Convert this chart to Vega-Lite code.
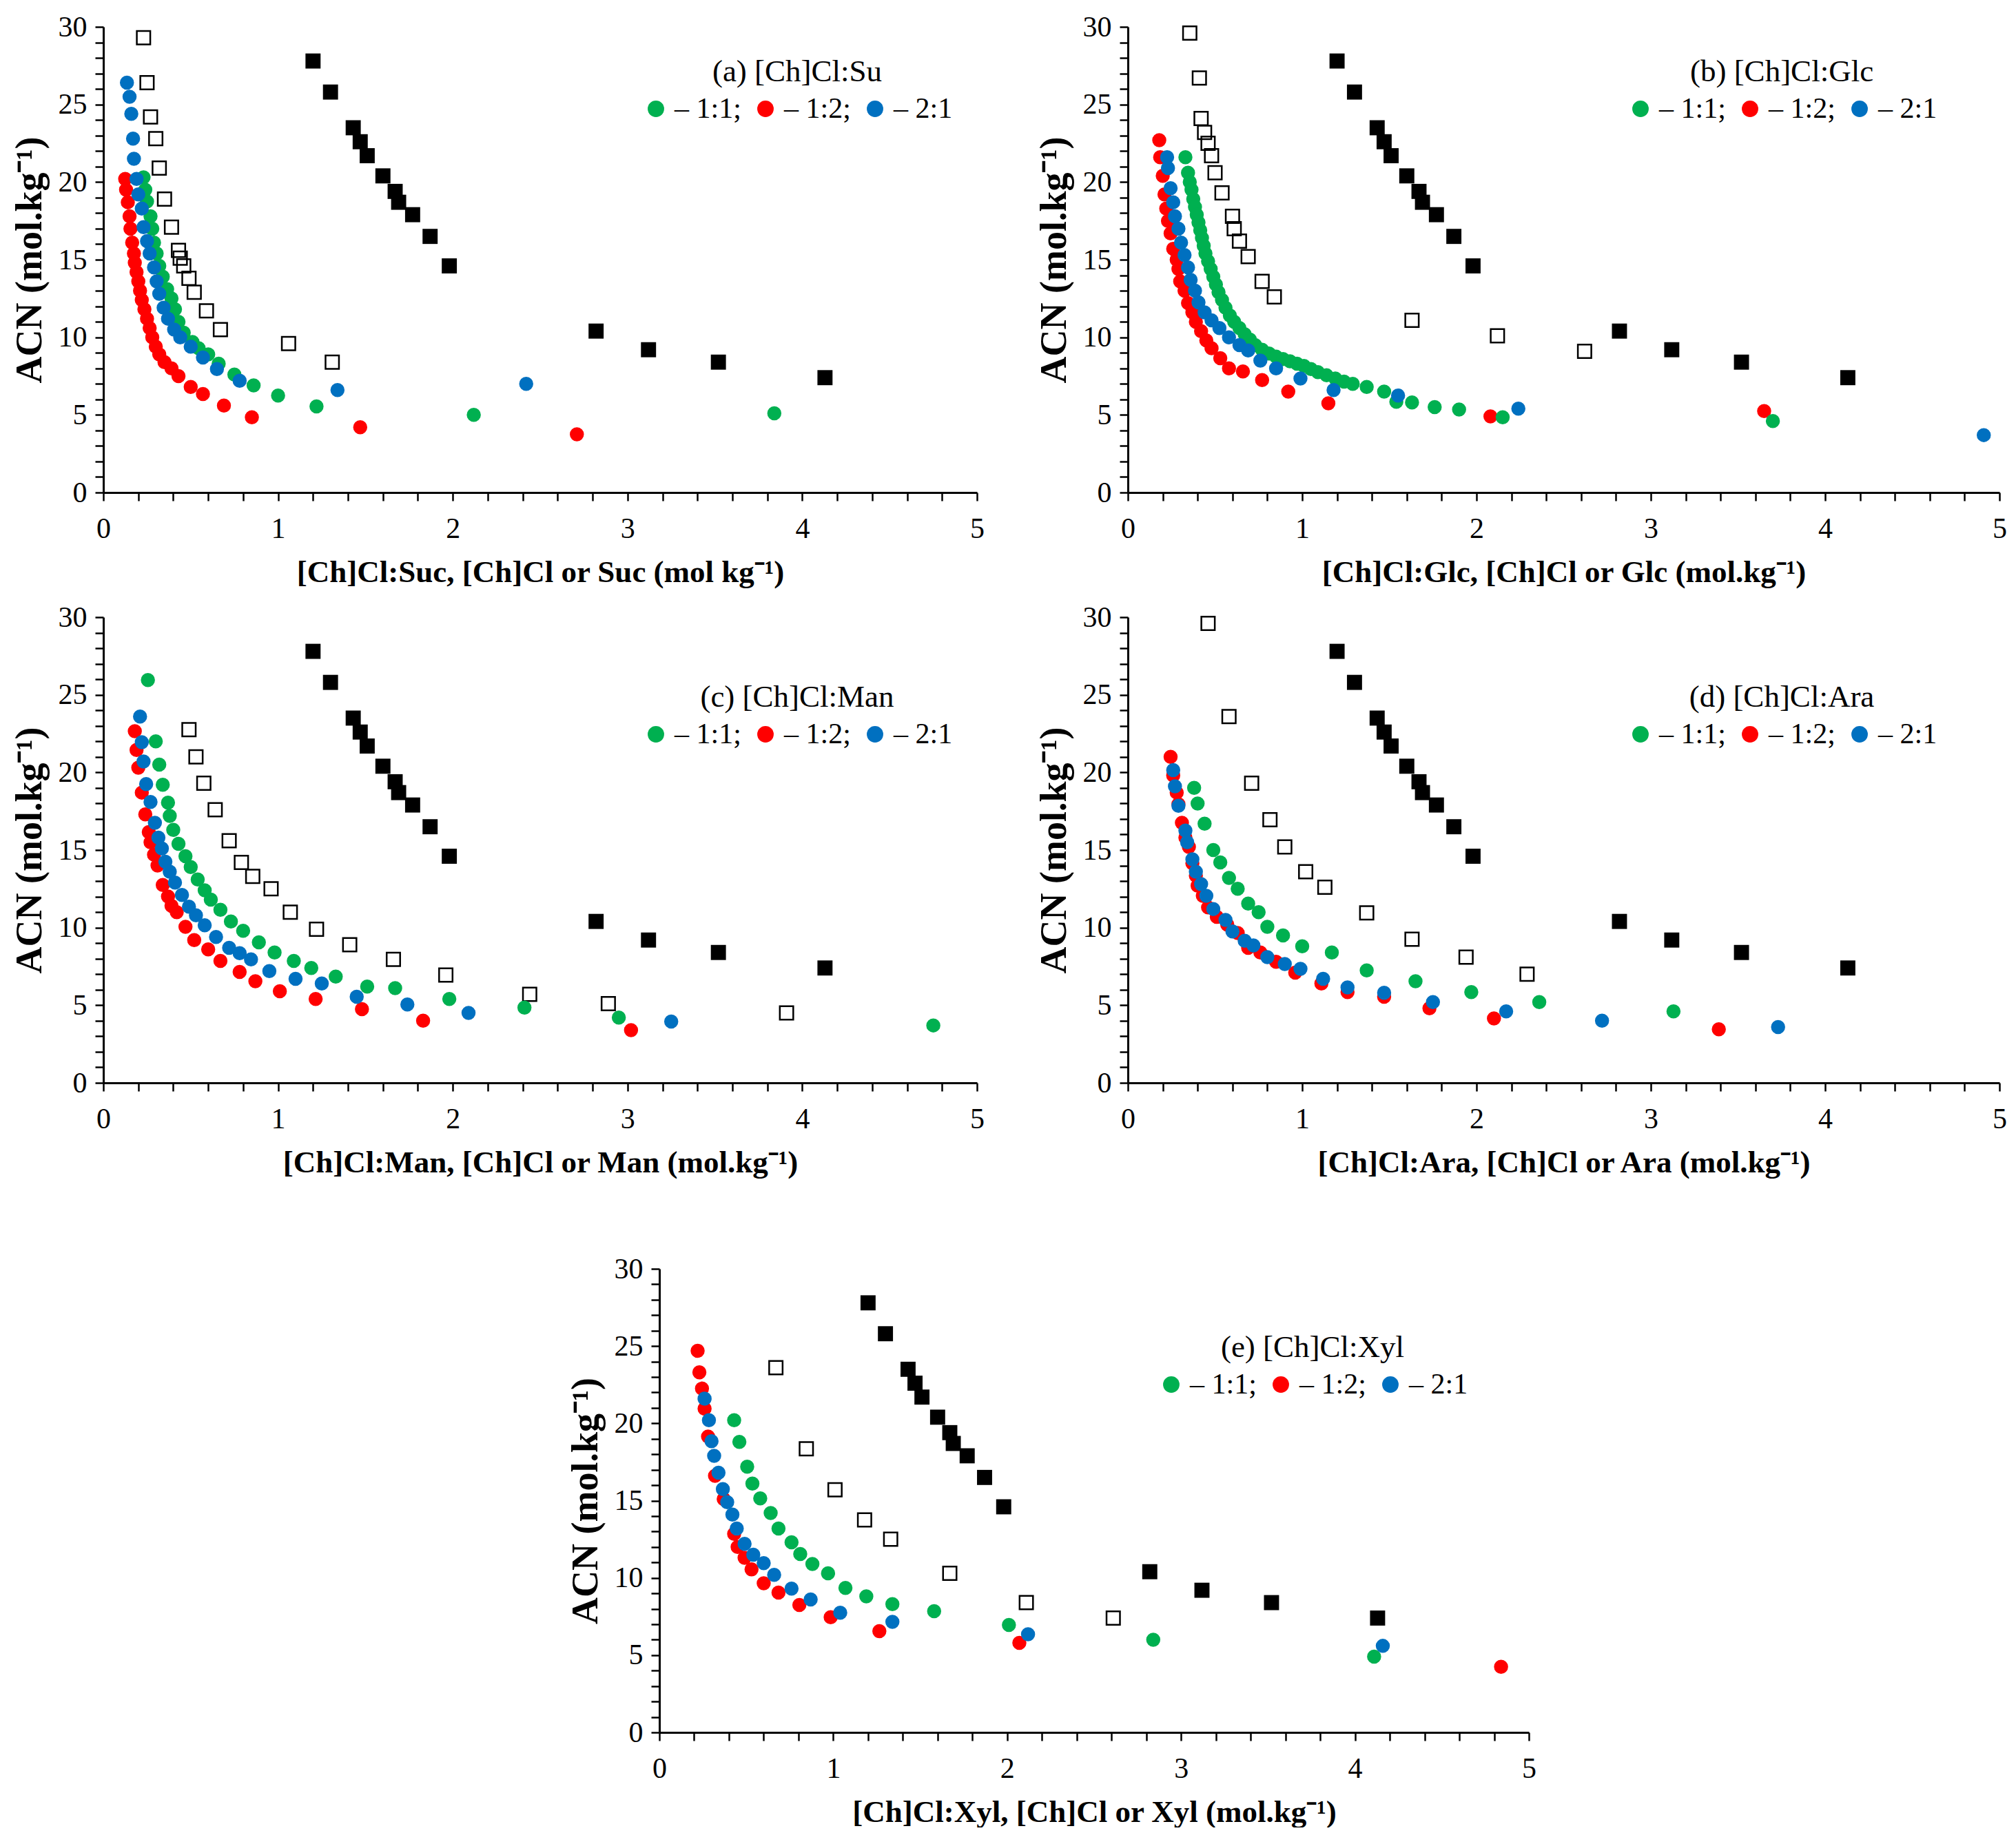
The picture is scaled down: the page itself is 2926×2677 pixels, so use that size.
{
  "$schema": "https://vega.github.io/schema/vega-lite/v6.json",
  "padding": {"top": 18, "left": 16, "right": 0, "bottom": 0},
  "config": {
    "font": "Liberation Serif",
    "view": {"stroke": null},
    "axis": {
      "grid": false,
      "domainColor": "black",
      "domainWidth": 3,
      "tickColor": "black",
      "tickWidth": 2.5,
      "tickSize": 12,
      "labelFont": "Liberation Serif",
      "labelFontSize": 42,
      "labelColor": "black",
      "labelFlush": false,
      "labelOverlap": false,
      "titleFont": "Liberation Serif",
      "titleColor": "black",
      "titleFontWeight": "bold"
    },
    "axisX": {"titlePadding": 20, "labelPadding": 20, "titleFontSize": 45},
    "axisY": {"titlePadding": 14, "labelPadding": 12, "titleFontSize": 54},
    "legend": {
      "orient": "none",
      "direction": "horizontal",
      "titleFont": "Liberation Serif",
      "titleFontSize": 45,
      "titleFontWeight": "normal",
      "titleColor": "black",
      "titleAnchor": "middle",
      "titlePadding": 10,
      "titleLimit": 0,
      "labelFont": "Liberation Serif",
      "labelFontSize": 42,
      "labelColor": "black",
      "labelLimit": 0,
      "labelOffset": 6,
      "symbolType": "circle",
      "symbolSize": 570,
      "symbolStrokeWidth": 0,
      "symbolOpacity": 1,
      "columnPadding": 14,
      "padding": 0
    }
  },
  "datasets": {
    "chcl": [
      {"m": 1.2, "acn": 27.8}, {"m": 1.3, "acn": 25.8}, {"m": 1.43, "acn": 23.5}, {"m": 1.47, "acn": 22.6},
      {"m": 1.51, "acn": 21.7}, {"m": 1.6, "acn": 20.4}, {"m": 1.67, "acn": 19.4}, {"m": 1.69, "acn": 18.7},
      {"m": 1.77, "acn": 17.9}, {"m": 1.87, "acn": 16.5}, {"m": 1.98, "acn": 14.6}, {"m": 2.82, "acn": 10.4},
      {"m": 3.12, "acn": 9.2}, {"m": 3.52, "acn": 8.4}, {"m": 4.13, "acn": 7.4}
    ],
    "suc": [
      {"m": 0.23, "acn": 29.3}, {"m": 0.25, "acn": 26.4}, {"m": 0.27, "acn": 24.2}, {"m": 0.3, "acn": 22.8},
      {"m": 0.32, "acn": 20.9}, {"m": 0.35, "acn": 18.9}, {"m": 0.39, "acn": 17.1}, {"m": 0.43, "acn": 15.6},
      {"m": 0.44, "acn": 15.1}, {"m": 0.46, "acn": 14.6}, {"m": 0.49, "acn": 13.8}, {"m": 0.52, "acn": 12.9},
      {"m": 0.59, "acn": 11.7}, {"m": 0.67, "acn": 10.5}, {"m": 1.06, "acn": 9.6}, {"m": 1.31, "acn": 8.4}
    ],
    "glc": [
      {"m": 0.355, "acn": 29.6}, {"m": 0.41, "acn": 26.7}, {"m": 0.42, "acn": 24.1}, {"m": 0.44, "acn": 23.2},
      {"m": 0.46, "acn": 22.5}, {"m": 0.48, "acn": 21.7}, {"m": 0.5, "acn": 20.6}, {"m": 0.54, "acn": 19.3},
      {"m": 0.6, "acn": 17.8}, {"m": 0.61, "acn": 17.0}, {"m": 0.64, "acn": 16.2}, {"m": 0.69, "acn": 15.2},
      {"m": 0.77, "acn": 13.6}, {"m": 0.84, "acn": 12.6}, {"m": 1.63, "acn": 11.1}, {"m": 2.12, "acn": 10.1},
      {"m": 2.62, "acn": 9.1}
    ],
    "man": [
      {"m": 0.49, "acn": 22.75}, {"m": 0.53, "acn": 21.0}, {"m": 0.575, "acn": 19.3}, {"m": 0.64, "acn": 17.6},
      {"m": 0.72, "acn": 15.6}, {"m": 0.79, "acn": 14.2}, {"m": 0.855, "acn": 13.3}, {"m": 0.96, "acn": 12.5},
      {"m": 1.07, "acn": 11.0}, {"m": 1.22, "acn": 9.9}, {"m": 1.41, "acn": 8.9}, {"m": 1.66, "acn": 7.95},
      {"m": 1.96, "acn": 6.95}, {"m": 2.44, "acn": 5.7}, {"m": 2.89, "acn": 5.1}, {"m": 3.91, "acn": 4.5}
    ],
    "ara": [
      {"m": 0.46, "acn": 29.6}, {"m": 0.58, "acn": 23.6}, {"m": 0.71, "acn": 19.3}, {"m": 0.815, "acn": 16.95},
      {"m": 0.9, "acn": 15.2}, {"m": 1.02, "acn": 13.6}, {"m": 1.13, "acn": 12.6}, {"m": 1.37, "acn": 10.95},
      {"m": 1.63, "acn": 9.25}, {"m": 1.94, "acn": 8.1}, {"m": 2.29, "acn": 7.0}
    ],
    "xyl": [
      {"m": 0.67, "acn": 23.6}, {"m": 0.845, "acn": 18.35}, {"m": 1.01, "acn": 15.7}, {"m": 1.18, "acn": 13.75},
      {"m": 1.33, "acn": 12.5}, {"m": 1.67, "acn": 10.3}, {"m": 2.11, "acn": 8.4}, {"m": 2.61, "acn": 7.4}
    ],
    "mix_a": [
      {"ratio": "1:2", "m": 0.125, "acn": 20.2}, {"ratio": "1:2", "m": 0.13, "acn": 19.5}, {"ratio": "1:2", "m": 0.14, "acn": 18.7},
      {"ratio": "1:2", "m": 0.15, "acn": 17.8}, {"ratio": "1:2", "m": 0.155, "acn": 17.0}, {"ratio": "1:2", "m": 0.165, "acn": 16.1},
      {"ratio": "1:2", "m": 0.175, "acn": 15.4}, {"ratio": "1:2", "m": 0.18, "acn": 14.8}, {"ratio": "1:2", "m": 0.19, "acn": 14.2},
      {"ratio": "1:2", "m": 0.2, "acn": 13.6}, {"ratio": "1:2", "m": 0.21, "acn": 13.0}, {"ratio": "1:2", "m": 0.22, "acn": 12.4},
      {"ratio": "1:2", "m": 0.235, "acn": 11.8}, {"ratio": "1:2", "m": 0.25, "acn": 11.2}, {"ratio": "1:2", "m": 0.265, "acn": 10.6},
      {"ratio": "1:2", "m": 0.28, "acn": 10.0}, {"ratio": "1:2", "m": 0.3, "acn": 9.4}, {"ratio": "1:2", "m": 0.32, "acn": 8.9},
      {"ratio": "1:2", "m": 0.35, "acn": 8.4}, {"ratio": "1:2", "m": 0.39, "acn": 8.0}, {"ratio": "1:2", "m": 0.43, "acn": 7.5},
      {"ratio": "1:2", "m": 0.5, "acn": 6.8}, {"ratio": "1:2", "m": 0.57, "acn": 6.35}, {"ratio": "1:2", "m": 0.69, "acn": 5.6},
      {"ratio": "1:2", "m": 0.85, "acn": 4.85}, {"ratio": "1:2", "m": 1.47, "acn": 4.2}, {"ratio": "1:2", "m": 2.71, "acn": 3.75},
      {"ratio": "1:1", "m": 0.23, "acn": 20.3}, {"ratio": "1:1", "m": 0.24, "acn": 19.5}, {"ratio": "1:1", "m": 0.25, "acn": 18.75},
      {"ratio": "1:1", "m": 0.27, "acn": 17.8}, {"ratio": "1:1", "m": 0.28, "acn": 17.0}, {"ratio": "1:1", "m": 0.29, "acn": 16.1},
      {"ratio": "1:1", "m": 0.305, "acn": 15.4}, {"ratio": "1:1", "m": 0.32, "acn": 14.6}, {"ratio": "1:1", "m": 0.34, "acn": 13.9},
      {"ratio": "1:1", "m": 0.365, "acn": 13.1}, {"ratio": "1:1", "m": 0.39, "acn": 12.5}, {"ratio": "1:1", "m": 0.41, "acn": 11.8},
      {"ratio": "1:1", "m": 0.43, "acn": 11.0}, {"ratio": "1:1", "m": 0.46, "acn": 10.3}, {"ratio": "1:1", "m": 0.51, "acn": 9.7},
      {"ratio": "1:1", "m": 0.545, "acn": 9.3}, {"ratio": "1:1", "m": 0.6, "acn": 8.9}, {"ratio": "1:1", "m": 0.66, "acn": 8.3},
      {"ratio": "1:1", "m": 0.75, "acn": 7.6}, {"ratio": "1:1", "m": 0.86, "acn": 6.9}, {"ratio": "1:1", "m": 1.0, "acn": 6.25},
      {"ratio": "1:1", "m": 1.22, "acn": 5.55}, {"ratio": "1:1", "m": 2.12, "acn": 5.0}, {"ratio": "1:1", "m": 3.84, "acn": 5.1},
      {"ratio": "2:1", "m": 0.135, "acn": 26.4}, {"ratio": "2:1", "m": 0.15, "acn": 25.5}, {"ratio": "2:1", "m": 0.16, "acn": 24.4},
      {"ratio": "2:1", "m": 0.17, "acn": 22.8}, {"ratio": "2:1", "m": 0.175, "acn": 21.5}, {"ratio": "2:1", "m": 0.19, "acn": 20.2},
      {"ratio": "2:1", "m": 0.2, "acn": 19.2}, {"ratio": "2:1", "m": 0.22, "acn": 18.3}, {"ratio": "2:1", "m": 0.23, "acn": 17.1},
      {"ratio": "2:1", "m": 0.25, "acn": 16.2}, {"ratio": "2:1", "m": 0.265, "acn": 15.4}, {"ratio": "2:1", "m": 0.29, "acn": 14.5},
      {"ratio": "2:1", "m": 0.305, "acn": 13.6}, {"ratio": "2:1", "m": 0.32, "acn": 12.8}, {"ratio": "2:1", "m": 0.345, "acn": 11.9},
      {"ratio": "2:1", "m": 0.37, "acn": 11.2}, {"ratio": "2:1", "m": 0.405, "acn": 10.5}, {"ratio": "2:1", "m": 0.44, "acn": 10.0},
      {"ratio": "2:1", "m": 0.5, "acn": 9.4}, {"ratio": "2:1", "m": 0.57, "acn": 8.7}, {"ratio": "2:1", "m": 0.65, "acn": 7.95},
      {"ratio": "2:1", "m": 0.78, "acn": 7.2}, {"ratio": "2:1", "m": 1.34, "acn": 6.6}, {"ratio": "2:1", "m": 2.42, "acn": 7.0}
    ],
    "mix_b": [
      {"ratio": "1:2", "m": 0.18, "acn": 22.7}, {"ratio": "1:2", "m": 0.185, "acn": 21.6}, {"ratio": "1:2", "m": 0.2, "acn": 20.4},
      {"ratio": "1:2", "m": 0.21, "acn": 19.2}, {"ratio": "1:2", "m": 0.22, "acn": 18.3}, {"ratio": "1:2", "m": 0.23, "acn": 17.5},
      {"ratio": "1:2", "m": 0.245, "acn": 16.7}, {"ratio": "1:2", "m": 0.26, "acn": 15.7}, {"ratio": "1:2", "m": 0.28, "acn": 15.0},
      {"ratio": "1:2", "m": 0.29, "acn": 14.4}, {"ratio": "1:2", "m": 0.3, "acn": 13.6}, {"ratio": "1:2", "m": 0.325, "acn": 13.0},
      {"ratio": "1:2", "m": 0.345, "acn": 12.2}, {"ratio": "1:2", "m": 0.37, "acn": 11.6}, {"ratio": "1:2", "m": 0.39, "acn": 11.0},
      {"ratio": "1:2", "m": 0.42, "acn": 10.4}, {"ratio": "1:2", "m": 0.45, "acn": 9.8}, {"ratio": "1:2", "m": 0.48, "acn": 9.3},
      {"ratio": "1:2", "m": 0.53, "acn": 8.65}, {"ratio": "1:2", "m": 0.58, "acn": 8.0}, {"ratio": "1:2", "m": 0.66, "acn": 7.8},
      {"ratio": "1:2", "m": 0.77, "acn": 7.25}, {"ratio": "1:2", "m": 0.92, "acn": 6.5}, {"ratio": "1:2", "m": 1.15, "acn": 5.75},
      {"ratio": "1:2", "m": 2.08, "acn": 4.9}, {"ratio": "1:2", "m": 3.65, "acn": 5.25},
      {"ratio": "1:1", "m": 0.33, "acn": 21.6}, {"ratio": "1:1", "m": 0.345, "acn": 20.6}, {"ratio": "1:1", "m": 0.355, "acn": 20.0},
      {"ratio": "1:1", "m": 0.365, "acn": 19.5}, {"ratio": "1:1", "m": 0.375, "acn": 18.9}, {"ratio": "1:1", "m": 0.385, "acn": 18.4},
      {"ratio": "1:1", "m": 0.395, "acn": 17.9}, {"ratio": "1:1", "m": 0.405, "acn": 17.4}, {"ratio": "1:1", "m": 0.415, "acn": 16.9},
      {"ratio": "1:1", "m": 0.425, "acn": 16.4}, {"ratio": "1:1", "m": 0.435, "acn": 15.9}, {"ratio": "1:1", "m": 0.445, "acn": 15.4},
      {"ratio": "1:1", "m": 0.46, "acn": 14.9}, {"ratio": "1:1", "m": 0.475, "acn": 14.4}, {"ratio": "1:1", "m": 0.49, "acn": 13.9},
      {"ratio": "1:1", "m": 0.505, "acn": 13.4}, {"ratio": "1:1", "m": 0.52, "acn": 12.9}, {"ratio": "1:1", "m": 0.54, "acn": 12.4},
      {"ratio": "1:1", "m": 0.56, "acn": 11.9}, {"ratio": "1:1", "m": 0.585, "acn": 11.4}, {"ratio": "1:1", "m": 0.61, "acn": 11.0},
      {"ratio": "1:1", "m": 0.64, "acn": 10.6}, {"ratio": "1:1", "m": 0.67, "acn": 10.2}, {"ratio": "1:1", "m": 0.7, "acn": 9.85},
      {"ratio": "1:1", "m": 0.73, "acn": 9.5}, {"ratio": "1:1", "m": 0.77, "acn": 9.2}, {"ratio": "1:1", "m": 0.81, "acn": 8.95},
      {"ratio": "1:1", "m": 0.85, "acn": 8.75}, {"ratio": "1:1", "m": 0.89, "acn": 8.6}, {"ratio": "1:1", "m": 0.93, "acn": 8.45},
      {"ratio": "1:1", "m": 0.97, "acn": 8.3}, {"ratio": "1:1", "m": 1.01, "acn": 8.15}, {"ratio": "1:1", "m": 1.05, "acn": 7.95},
      {"ratio": "1:1", "m": 1.09, "acn": 7.75}, {"ratio": "1:1", "m": 1.14, "acn": 7.55}, {"ratio": "1:1", "m": 1.19, "acn": 7.35},
      {"ratio": "1:1", "m": 1.24, "acn": 7.15}, {"ratio": "1:1", "m": 1.29, "acn": 7.0}, {"ratio": "1:1", "m": 1.37, "acn": 6.8},
      {"ratio": "1:1", "m": 1.47, "acn": 6.5}, {"ratio": "1:1", "m": 1.54, "acn": 5.85}, {"ratio": "1:1", "m": 1.63, "acn": 5.8},
      {"ratio": "1:1", "m": 1.76, "acn": 5.5}, {"ratio": "1:1", "m": 1.9, "acn": 5.35}, {"ratio": "1:1", "m": 2.15, "acn": 4.85},
      {"ratio": "1:1", "m": 3.7, "acn": 4.6},
      {"ratio": "2:1", "m": 0.225, "acn": 21.6}, {"ratio": "2:1", "m": 0.23, "acn": 20.9}, {"ratio": "2:1", "m": 0.245, "acn": 19.6},
      {"ratio": "2:1", "m": 0.26, "acn": 18.7}, {"ratio": "2:1", "m": 0.27, "acn": 17.8}, {"ratio": "2:1", "m": 0.29, "acn": 17.0},
      {"ratio": "2:1", "m": 0.305, "acn": 16.1}, {"ratio": "2:1", "m": 0.325, "acn": 15.3}, {"ratio": "2:1", "m": 0.345, "acn": 14.5},
      {"ratio": "2:1", "m": 0.36, "acn": 13.7}, {"ratio": "2:1", "m": 0.385, "acn": 13.0}, {"ratio": "2:1", "m": 0.405, "acn": 12.25},
      {"ratio": "2:1", "m": 0.44, "acn": 11.6}, {"ratio": "2:1", "m": 0.48, "acn": 11.1}, {"ratio": "2:1", "m": 0.525, "acn": 10.6},
      {"ratio": "2:1", "m": 0.58, "acn": 10.0}, {"ratio": "2:1", "m": 0.64, "acn": 9.5}, {"ratio": "2:1", "m": 0.69, "acn": 9.15},
      {"ratio": "2:1", "m": 0.76, "acn": 8.5}, {"ratio": "2:1", "m": 0.85, "acn": 8.0}, {"ratio": "2:1", "m": 0.99, "acn": 7.35},
      {"ratio": "2:1", "m": 1.18, "acn": 6.6}, {"ratio": "2:1", "m": 1.55, "acn": 6.25}, {"ratio": "2:1", "m": 2.24, "acn": 5.4},
      {"ratio": "2:1", "m": 4.91, "acn": 3.7}
    ],
    "mix_c": [
      {"ratio": "1:2", "m": 0.18, "acn": 22.65}, {"ratio": "1:2", "m": 0.19, "acn": 21.45}, {"ratio": "1:2", "m": 0.2, "acn": 20.3},
      {"ratio": "1:2", "m": 0.22, "acn": 18.7}, {"ratio": "1:2", "m": 0.24, "acn": 17.3}, {"ratio": "1:2", "m": 0.26, "acn": 16.15},
      {"ratio": "1:2", "m": 0.27, "acn": 15.5}, {"ratio": "1:2", "m": 0.29, "acn": 14.7}, {"ratio": "1:2", "m": 0.31, "acn": 14.0},
      {"ratio": "1:2", "m": 0.34, "acn": 12.75}, {"ratio": "1:2", "m": 0.37, "acn": 12.0}, {"ratio": "1:2", "m": 0.39, "acn": 11.4},
      {"ratio": "1:2", "m": 0.42, "acn": 11.0}, {"ratio": "1:2", "m": 0.47, "acn": 10.05}, {"ratio": "1:2", "m": 0.52, "acn": 9.2},
      {"ratio": "1:2", "m": 0.6, "acn": 8.6}, {"ratio": "1:2", "m": 0.67, "acn": 7.85}, {"ratio": "1:2", "m": 0.78, "acn": 7.15},
      {"ratio": "1:2", "m": 0.87, "acn": 6.55}, {"ratio": "1:2", "m": 1.01, "acn": 5.9}, {"ratio": "1:2", "m": 1.215, "acn": 5.4},
      {"ratio": "1:2", "m": 1.48, "acn": 4.75}, {"ratio": "1:2", "m": 1.83, "acn": 4.0}, {"ratio": "1:2", "m": 3.02, "acn": 3.4},
      {"ratio": "1:1", "m": 0.255, "acn": 25.95}, {"ratio": "1:1", "m": 0.3, "acn": 22.0}, {"ratio": "1:1", "m": 0.32, "acn": 20.5},
      {"ratio": "1:1", "m": 0.34, "acn": 19.2}, {"ratio": "1:1", "m": 0.37, "acn": 18.05}, {"ratio": "1:1", "m": 0.38, "acn": 17.2},
      {"ratio": "1:1", "m": 0.4, "acn": 16.3}, {"ratio": "1:1", "m": 0.43, "acn": 15.4}, {"ratio": "1:1", "m": 0.47, "acn": 14.6},
      {"ratio": "1:1", "m": 0.5, "acn": 13.9}, {"ratio": "1:1", "m": 0.54, "acn": 13.1}, {"ratio": "1:1", "m": 0.58, "acn": 12.4},
      {"ratio": "1:1", "m": 0.615, "acn": 11.8}, {"ratio": "1:1", "m": 0.67, "acn": 11.15}, {"ratio": "1:1", "m": 0.73, "acn": 10.4},
      {"ratio": "1:1", "m": 0.8, "acn": 9.8}, {"ratio": "1:1", "m": 0.89, "acn": 9.05}, {"ratio": "1:1", "m": 0.98, "acn": 8.4},
      {"ratio": "1:1", "m": 1.09, "acn": 7.85}, {"ratio": "1:1", "m": 1.19, "acn": 7.4}, {"ratio": "1:1", "m": 1.33, "acn": 6.85},
      {"ratio": "1:1", "m": 1.51, "acn": 6.2}, {"ratio": "1:1", "m": 1.67, "acn": 6.1}, {"ratio": "1:1", "m": 1.98, "acn": 5.4},
      {"ratio": "1:1", "m": 2.41, "acn": 4.85}, {"ratio": "1:1", "m": 2.95, "acn": 4.2}, {"ratio": "1:1", "m": 4.75, "acn": 3.7},
      {"ratio": "2:1", "m": 0.21, "acn": 23.6}, {"ratio": "2:1", "m": 0.22, "acn": 21.95}, {"ratio": "2:1", "m": 0.23, "acn": 20.7},
      {"ratio": "2:1", "m": 0.245, "acn": 19.25}, {"ratio": "2:1", "m": 0.27, "acn": 18.1}, {"ratio": "2:1", "m": 0.295, "acn": 16.75},
      {"ratio": "2:1", "m": 0.315, "acn": 15.8}, {"ratio": "2:1", "m": 0.335, "acn": 15.1}, {"ratio": "2:1", "m": 0.355, "acn": 14.25},
      {"ratio": "2:1", "m": 0.38, "acn": 13.6}, {"ratio": "2:1", "m": 0.41, "acn": 12.9}, {"ratio": "2:1", "m": 0.45, "acn": 12.1},
      {"ratio": "2:1", "m": 0.49, "acn": 11.35}, {"ratio": "2:1", "m": 0.53, "acn": 10.8}, {"ratio": "2:1", "m": 0.58, "acn": 10.15},
      {"ratio": "2:1", "m": 0.645, "acn": 9.4}, {"ratio": "2:1", "m": 0.72, "acn": 8.7}, {"ratio": "2:1", "m": 0.78, "acn": 8.35},
      {"ratio": "2:1", "m": 0.845, "acn": 7.95}, {"ratio": "2:1", "m": 0.95, "acn": 7.2}, {"ratio": "2:1", "m": 1.1, "acn": 6.7},
      {"ratio": "2:1", "m": 1.25, "acn": 6.4}, {"ratio": "2:1", "m": 1.45, "acn": 5.55}, {"ratio": "2:1", "m": 1.74, "acn": 5.05},
      {"ratio": "2:1", "m": 2.09, "acn": 4.5}, {"ratio": "2:1", "m": 3.25, "acn": 3.95}
    ],
    "mix_d": [
      {"ratio": "1:2", "m": 0.245, "acn": 21.0}, {"ratio": "1:2", "m": 0.26, "acn": 19.8}, {"ratio": "1:2", "m": 0.28, "acn": 18.7},
      {"ratio": "1:2", "m": 0.29, "acn": 17.95}, {"ratio": "1:2", "m": 0.31, "acn": 16.75}, {"ratio": "1:2", "m": 0.33, "acn": 15.8},
      {"ratio": "1:2", "m": 0.35, "acn": 15.2}, {"ratio": "1:2", "m": 0.37, "acn": 14.15}, {"ratio": "1:2", "m": 0.39, "acn": 13.35},
      {"ratio": "1:2", "m": 0.4, "acn": 12.7}, {"ratio": "1:2", "m": 0.43, "acn": 12.05}, {"ratio": "1:2", "m": 0.46, "acn": 11.3},
      {"ratio": "1:2", "m": 0.51, "acn": 10.7}, {"ratio": "1:2", "m": 0.57, "acn": 10.2}, {"ratio": "1:2", "m": 0.63, "acn": 9.65},
      {"ratio": "1:2", "m": 0.69, "acn": 8.7}, {"ratio": "1:2", "m": 0.76, "acn": 8.4}, {"ratio": "1:2", "m": 0.85, "acn": 7.8},
      {"ratio": "1:2", "m": 0.96, "acn": 7.1}, {"ratio": "1:2", "m": 1.11, "acn": 6.4}, {"ratio": "1:2", "m": 1.26, "acn": 5.85},
      {"ratio": "1:2", "m": 1.47, "acn": 5.55}, {"ratio": "1:2", "m": 1.73, "acn": 4.8}, {"ratio": "1:2", "m": 2.1, "acn": 4.15},
      {"ratio": "1:2", "m": 3.39, "acn": 3.45},
      {"ratio": "1:1", "m": 0.38, "acn": 19.0}, {"ratio": "1:1", "m": 0.4, "acn": 18.0}, {"ratio": "1:1", "m": 0.44, "acn": 16.7},
      {"ratio": "1:1", "m": 0.49, "acn": 15.0}, {"ratio": "1:1", "m": 0.53, "acn": 14.2}, {"ratio": "1:1", "m": 0.58, "acn": 13.2},
      {"ratio": "1:1", "m": 0.63, "acn": 12.5}, {"ratio": "1:1", "m": 0.69, "acn": 11.55}, {"ratio": "1:1", "m": 0.75, "acn": 11.0},
      {"ratio": "1:1", "m": 0.8, "acn": 10.05}, {"ratio": "1:1", "m": 0.89, "acn": 9.5}, {"ratio": "1:1", "m": 1.0, "acn": 8.8},
      {"ratio": "1:1", "m": 1.17, "acn": 8.4}, {"ratio": "1:1", "m": 1.37, "acn": 7.25}, {"ratio": "1:1", "m": 1.65, "acn": 6.55},
      {"ratio": "1:1", "m": 1.97, "acn": 5.85}, {"ratio": "1:1", "m": 2.36, "acn": 5.2}, {"ratio": "1:1", "m": 3.13, "acn": 4.6},
      {"ratio": "2:1", "m": 0.26, "acn": 20.15}, {"ratio": "2:1", "m": 0.27, "acn": 19.1}, {"ratio": "2:1", "m": 0.29, "acn": 17.85},
      {"ratio": "2:1", "m": 0.33, "acn": 16.25}, {"ratio": "2:1", "m": 0.34, "acn": 15.5}, {"ratio": "2:1", "m": 0.37, "acn": 14.4},
      {"ratio": "2:1", "m": 0.39, "acn": 13.6}, {"ratio": "2:1", "m": 0.42, "acn": 12.8}, {"ratio": "2:1", "m": 0.45, "acn": 12.05},
      {"ratio": "2:1", "m": 0.49, "acn": 11.2}, {"ratio": "2:1", "m": 0.56, "acn": 10.5}, {"ratio": "2:1", "m": 0.6, "acn": 9.75},
      {"ratio": "2:1", "m": 0.67, "acn": 9.15}, {"ratio": "2:1", "m": 0.72, "acn": 8.85}, {"ratio": "2:1", "m": 0.8, "acn": 8.1},
      {"ratio": "2:1", "m": 0.9, "acn": 7.65}, {"ratio": "2:1", "m": 0.99, "acn": 7.35}, {"ratio": "2:1", "m": 1.12, "acn": 6.7},
      {"ratio": "2:1", "m": 1.26, "acn": 6.15}, {"ratio": "2:1", "m": 1.47, "acn": 5.8}, {"ratio": "2:1", "m": 1.75, "acn": 5.2},
      {"ratio": "2:1", "m": 2.17, "acn": 4.6}, {"ratio": "2:1", "m": 2.72, "acn": 4.0}, {"ratio": "2:1", "m": 3.73, "acn": 3.6}
    ],
    "mix_e": [
      {"ratio": "1:2", "m": 0.22, "acn": 24.7}, {"ratio": "1:2", "m": 0.23, "acn": 23.3}, {"ratio": "1:2", "m": 0.245, "acn": 22.25},
      {"ratio": "1:2", "m": 0.26, "acn": 20.95}, {"ratio": "1:2", "m": 0.28, "acn": 19.15}, {"ratio": "1:2", "m": 0.32, "acn": 16.6},
      {"ratio": "1:2", "m": 0.37, "acn": 15.1}, {"ratio": "1:2", "m": 0.43, "acn": 12.85}, {"ratio": "1:2", "m": 0.45, "acn": 12.0},
      {"ratio": "1:2", "m": 0.49, "acn": 11.3}, {"ratio": "1:2", "m": 0.53, "acn": 10.55}, {"ratio": "1:2", "m": 0.6, "acn": 9.65},
      {"ratio": "1:2", "m": 0.685, "acn": 9.05}, {"ratio": "1:2", "m": 0.805, "acn": 8.25}, {"ratio": "1:2", "m": 0.985, "acn": 7.45},
      {"ratio": "1:2", "m": 1.265, "acn": 6.55}, {"ratio": "1:2", "m": 2.07, "acn": 5.8}, {"ratio": "1:2", "m": 4.84, "acn": 4.25},
      {"ratio": "1:1", "m": 0.43, "acn": 20.2}, {"ratio": "1:1", "m": 0.46, "acn": 18.8}, {"ratio": "1:1", "m": 0.505, "acn": 17.2},
      {"ratio": "1:1", "m": 0.535, "acn": 16.1}, {"ratio": "1:1", "m": 0.58, "acn": 15.15}, {"ratio": "1:1", "m": 0.64, "acn": 14.2},
      {"ratio": "1:1", "m": 0.685, "acn": 13.2}, {"ratio": "1:1", "m": 0.76, "acn": 12.3}, {"ratio": "1:1", "m": 0.81, "acn": 11.55},
      {"ratio": "1:1", "m": 0.88, "acn": 10.9}, {"ratio": "1:1", "m": 0.97, "acn": 10.3}, {"ratio": "1:1", "m": 1.07, "acn": 9.35},
      {"ratio": "1:1", "m": 1.19, "acn": 8.8}, {"ratio": "1:1", "m": 1.34, "acn": 8.3}, {"ratio": "1:1", "m": 1.58, "acn": 7.85},
      {"ratio": "1:1", "m": 2.01, "acn": 6.95}, {"ratio": "1:1", "m": 2.84, "acn": 6.0}, {"ratio": "1:1", "m": 4.11, "acn": 4.9},
      {"ratio": "2:1", "m": 0.26, "acn": 21.6}, {"ratio": "2:1", "m": 0.285, "acn": 20.2}, {"ratio": "2:1", "m": 0.3, "acn": 18.85},
      {"ratio": "2:1", "m": 0.315, "acn": 17.9}, {"ratio": "2:1", "m": 0.34, "acn": 16.8}, {"ratio": "2:1", "m": 0.365, "acn": 15.75},
      {"ratio": "2:1", "m": 0.39, "acn": 14.9}, {"ratio": "2:1", "m": 0.42, "acn": 14.1}, {"ratio": "2:1", "m": 0.445, "acn": 13.2},
      {"ratio": "2:1", "m": 0.49, "acn": 12.2}, {"ratio": "2:1", "m": 0.54, "acn": 11.5}, {"ratio": "2:1", "m": 0.6, "acn": 10.95},
      {"ratio": "2:1", "m": 0.66, "acn": 10.2}, {"ratio": "2:1", "m": 0.76, "acn": 9.3}, {"ratio": "2:1", "m": 0.87, "acn": 8.6},
      {"ratio": "2:1", "m": 1.04, "acn": 7.75}, {"ratio": "2:1", "m": 1.34, "acn": 7.15}, {"ratio": "2:1", "m": 2.12, "acn": 6.35},
      {"ratio": "2:1", "m": 4.16, "acn": 5.6}
    ]
  },
  "resolve": {"scale": {"color": "independent"}, "legend": {"color": "independent"}},
  "spacing": 111,
  "vconcat": [
    {
      "resolve": {"scale": {"color": "independent"}, "legend": {"color": "independent"}},
      "spacing": 22,
      "vconcat": [
        {
          "resolve": {"scale": {"color": "independent"}, "legend": {"color": "independent"}},
          "spacing": 74,
          "hconcat": [
            {
              "width": 1268,
              "height": 676,
              "encoding": {
                "x": {"field": "m", "type": "quantitative", "title": "[Ch]Cl:Suc, [Ch]Cl or Suc (mol kg⁻¹)",
                  "scale": {"domain": [0, 5], "nice": false},
                  "axis": {"values": [0,0.2,0.4,0.6,0.8,1,1.2,1.4,1.6,1.8,2,2.2,2.4,2.6,2.8,3,3.2,3.4,3.6,3.8,4,4.2,4.4,4.6,4.8,5], "labelExpr": "datum.value % 1 == 0 ? format(datum.value, 'd') : ''"}},
                "y": {"field": "acn", "type": "quantitative", "title": "ACN (mol.kg⁻¹)",
                  "scale": {"domain": [0, 30], "nice": false},
                  "axis": {"values": [0,1,2,3,4,5,6,7,8,9,10,11,12,13,14,15,16,17,18,19,20,21,22,23,24,25,26,27,28,29,30], "labelExpr": "datum.value % 5 == 0 ? format(datum.value, 'd') : ''"}}
              },
              "layer": [
                {"data": {"name": "suc"}, "mark": {"type": "square", "filled": false, "stroke": "black", "strokeWidth": 2.5, "size": 380, "opacity": 1}},
                {"data": {"name": "chcl"}, "mark": {"type": "square", "filled": true, "color": "black", "size": 480, "opacity": 1}},
                {"data": {"name": "mix_a"}, "mark": {"type": "circle", "size": 420, "opacity": 1},
                  "encoding": {"color": {"field": "ratio", "type": "nominal",
                    "scale": {"domain": ["1:1", "1:2", "2:1"], "range": ["#00B050", "#FF0000", "#0070C0"]},
                    "legend": {"title": "(a) [Ch]Cl:Su", "legendX": 781, "legendY": 43, "symbolSize": 570, "encode": {"symbols": {"update": {"size": {"value": 570}}}}, "labelExpr": "'– ' + datum.label + (datum.label == '2:1' ? '' : ';')"}}}}
              ]
            },
            {
              "width": 1265,
              "height": 676,
              "encoding": {
                "x": {"field": "m", "type": "quantitative", "title": "[Ch]Cl:Glc, [Ch]Cl or Glc (mol.kg⁻¹)",
                  "scale": {"domain": [0, 5], "nice": false},
                  "axis": {"values": [0,0.2,0.4,0.6,0.8,1,1.2,1.4,1.6,1.8,2,2.2,2.4,2.6,2.8,3,3.2,3.4,3.6,3.8,4,4.2,4.4,4.6,4.8,5], "labelExpr": "datum.value % 1 == 0 ? format(datum.value, 'd') : ''"}},
                "y": {"field": "acn", "type": "quantitative", "title": "ACN (mol.kg⁻¹)",
                  "scale": {"domain": [0, 30], "nice": false},
                  "axis": {"values": [0,1,2,3,4,5,6,7,8,9,10,11,12,13,14,15,16,17,18,19,20,21,22,23,24,25,26,27,28,29,30], "labelExpr": "datum.value % 5 == 0 ? format(datum.value, 'd') : ''"}}
              },
              "layer": [
                {"data": {"name": "glc"}, "mark": {"type": "square", "filled": false, "stroke": "black", "strokeWidth": 2.5, "size": 380, "opacity": 1}},
                {"data": {"name": "chcl"}, "mark": {"type": "square", "filled": true, "color": "black", "size": 480, "opacity": 1}},
                {"data": {"name": "mix_b"}, "mark": {"type": "circle", "size": 420, "opacity": 1},
                  "encoding": {"color": {"field": "ratio", "type": "nominal",
                    "scale": {"domain": ["1:1", "1:2", "2:1"], "range": ["#00B050", "#FF0000", "#0070C0"]},
                    "legend": {"title": "(b) [Ch]Cl:Glc", "legendX": 723, "legendY": 43, "symbolSize": 570, "encode": {"symbols": {"update": {"size": {"value": 570}}}}, "labelExpr": "'– ' + datum.label + (datum.label == '2:1' ? '' : ';')"}}}}
              ]
            }
          ]
        },
        {
          "resolve": {"scale": {"color": "independent"}, "legend": {"color": "independent"}},
          "spacing": 74,
          "hconcat": [
            {
              "width": 1268,
              "height": 676,
              "encoding": {
                "x": {"field": "m", "type": "quantitative", "title": "[Ch]Cl:Man, [Ch]Cl  or Man (mol.kg⁻¹)",
                  "scale": {"domain": [0, 5], "nice": false},
                  "axis": {"values": [0,0.2,0.4,0.6,0.8,1,1.2,1.4,1.6,1.8,2,2.2,2.4,2.6,2.8,3,3.2,3.4,3.6,3.8,4,4.2,4.4,4.6,4.8,5], "labelExpr": "datum.value % 1 == 0 ? format(datum.value, 'd') : ''"}},
                "y": {"field": "acn", "type": "quantitative", "title": "ACN (mol.kg⁻¹)",
                  "scale": {"domain": [0, 30], "nice": false},
                  "axis": {"values": [0,1,2,3,4,5,6,7,8,9,10,11,12,13,14,15,16,17,18,19,20,21,22,23,24,25,26,27,28,29,30], "labelExpr": "datum.value % 5 == 0 ? format(datum.value, 'd') : ''"}}
              },
              "layer": [
                {"data": {"name": "man"}, "mark": {"type": "square", "filled": false, "stroke": "black", "strokeWidth": 2.5, "size": 380, "opacity": 1}},
                {"data": {"name": "chcl"}, "mark": {"type": "square", "filled": true, "color": "black", "size": 480, "opacity": 1}},
                {"data": {"name": "mix_c"}, "mark": {"type": "circle", "size": 420, "opacity": 1},
                  "encoding": {"color": {"field": "ratio", "type": "nominal",
                    "scale": {"domain": ["1:1", "1:2", "2:1"], "range": ["#00B050", "#FF0000", "#0070C0"]},
                    "legend": {"title": "(c) [Ch]Cl:Man", "legendX": 781, "legendY": 94, "symbolSize": 570, "encode": {"symbols": {"update": {"size": {"value": 570}}}}, "labelExpr": "'– ' + datum.label + (datum.label == '2:1' ? '' : ';')"}}}}
              ]
            },
            {
              "width": 1265,
              "height": 676,
              "encoding": {
                "x": {"field": "m", "type": "quantitative", "title": "[Ch]Cl:Ara, [Ch]Cl or Ara (mol.kg⁻¹)",
                  "scale": {"domain": [0, 5], "nice": false},
                  "axis": {"values": [0,0.2,0.4,0.6,0.8,1,1.2,1.4,1.6,1.8,2,2.2,2.4,2.6,2.8,3,3.2,3.4,3.6,3.8,4,4.2,4.4,4.6,4.8,5], "labelExpr": "datum.value % 1 == 0 ? format(datum.value, 'd') : ''"}},
                "y": {"field": "acn", "type": "quantitative", "title": "ACN (mol.kg⁻¹)",
                  "scale": {"domain": [0, 30], "nice": false},
                  "axis": {"values": [0,1,2,3,4,5,6,7,8,9,10,11,12,13,14,15,16,17,18,19,20,21,22,23,24,25,26,27,28,29,30], "labelExpr": "datum.value % 5 == 0 ? format(datum.value, 'd') : ''"}}
              },
              "layer": [
                {"data": {"name": "ara"}, "mark": {"type": "square", "filled": false, "stroke": "black", "strokeWidth": 2.5, "size": 380, "opacity": 1}},
                {"data": {"name": "chcl"}, "mark": {"type": "square", "filled": true, "color": "black", "size": 480, "opacity": 1}},
                {"data": {"name": "mix_d"}, "mark": {"type": "circle", "size": 420, "opacity": 1},
                  "encoding": {"color": {"field": "ratio", "type": "nominal",
                    "scale": {"domain": ["1:1", "1:2", "2:1"], "range": ["#00B050", "#FF0000", "#0070C0"]},
                    "legend": {"title": "(d) [Ch]Cl:Ara", "legendX": 723, "legendY": 94, "symbolSize": 570, "encode": {"symbols": {"update": {"size": {"value": 570}}}}, "labelExpr": "'– ' + datum.label + (datum.label == '2:1' ? '' : ';')"}}}}
              ]
            }
          ]
        }
      ]
    },
    {
      "resolve": {"scale": {"color": "independent"}, "legend": {"color": "independent"}},
      "spacing": 26,
      "hconcat": [
        {"data": {"values": []}, "mark": "point", "width": 647, "height": 10},
        {
          "width": 1262,
          "height": 673,
          "encoding": {
            "x": {"field": "m", "type": "quantitative", "title": "[Ch]Cl:Xyl,  [Ch]Cl or Xyl  (mol.kg⁻¹)",
              "scale": {"domain": [0, 5], "nice": false},
              "axis": {"values": [0,0.2,0.4,0.6,0.8,1,1.2,1.4,1.6,1.8,2,2.2,2.4,2.6,2.8,3,3.2,3.4,3.6,3.8,4,4.2,4.4,4.6,4.8,5], "labelExpr": "datum.value % 1 == 0 ? format(datum.value, 'd') : ''"}},
            "y": {"field": "acn", "type": "quantitative", "title": "ACN (mol.kg⁻¹)",
              "scale": {"domain": [0, 30], "nice": false},
              "axis": {"values": [0,1,2,3,4,5,6,7,8,9,10,11,12,13,14,15,16,17,18,19,20,21,22,23,24,25,26,27,28,29,30], "labelExpr": "datum.value % 5 == 0 ? format(datum.value, 'd') : ''"}}
          },
          "layer": [
            {"data": {"name": "xyl"}, "mark": {"type": "square", "filled": false, "stroke": "black", "strokeWidth": 2.5, "size": 380, "opacity": 1}},
            {"data": {"name": "chcl"}, "mark": {"type": "square", "filled": true, "color": "black", "size": 480, "opacity": 1}},
            {"data": {"name": "mix_e"}, "mark": {"type": "circle", "size": 420, "opacity": 1},
              "encoding": {"color": {"field": "ratio", "type": "nominal",
                "scale": {"domain": ["1:1", "1:2", "2:1"], "range": ["#00B050", "#FF0000", "#0070C0"]},
                "legend": {"title": "(e) [Ch]Cl:Xyl", "legendX": 722, "legendY": 92, "symbolSize": 570, "encode": {"symbols": {"update": {"size": {"value": 570}}}}, "labelExpr": "'– ' + datum.label + (datum.label == '2:1' ? '' : ';')"}}}}
          ]
        }
      ]
    }
  ]
}
